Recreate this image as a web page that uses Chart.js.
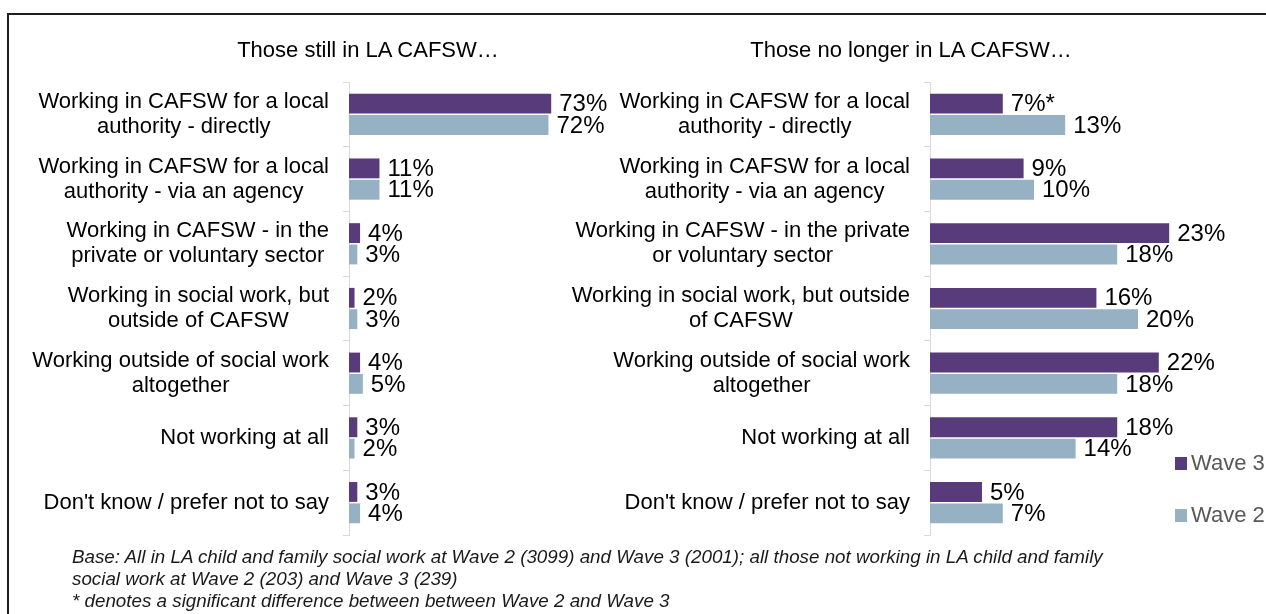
<!DOCTYPE html>
<html>
<head>
<meta charset="utf-8">
<script src="https://cdn.jsdelivr.net/npm/chart.js@4/dist/chart.umd.min.js"></script>
<style>
  body { margin: 0; background: #fff; width: 1266px; height: 614px; overflow: hidden; position: relative;
         font-family: "Liberation Sans", Arial, sans-serif; }
  .frame { position: absolute; left: 7px; top: 13px; width: 1300px; height: 700px;
           border-left: 2px solid #1e1e1e; border-top: 2px solid #1e1e1e; }
  canvas { position: absolute; top: 0; }
  #still { left: 0; }
  #left { left: 560px; }
  .title { position: absolute; top: 37px; font-size: 22px; color: #000; white-space: nowrap; transform: translateX(-50%); }
  .note { position: absolute; left: 72px; top: 546px; font-size: 18.8px; font-style: italic; line-height: 22px; color: #1a1a1a; white-space: nowrap; }
</style>
</head>
<body>
<div class="frame"></div>
<canvas id="still" width="640" height="614"></canvas>
<canvas id="left" width="706" height="614"></canvas>
<div class="title" style="left:368px">Those still in LA CAFSW…</div>
<div class="title" style="left:911px">Those no longer in LA CAFSW…</div>
<div class="note">Base: All in LA child and family social work at Wave 2 (3099) and Wave 3 (2001); all those not working in LA child and family<br>social work at Wave 2 (203) and Wave 3 (239)<br>* denotes a significant difference between between Wave 2 and Wave 3</div>
<script>
// categories, split into lines the way each panel wraps them
const stillLabels = [
  ['Working in CAFSW for a local', 'authority - directly'],
  ['Working in CAFSW for a local', 'authority - via an agency'],
  ['Working in CAFSW - in the', 'private or voluntary sector'],
  ['Working in social work, but', 'outside of CAFSW'],
  ['Working outside of social work', 'altogether'],
  'Not working at all',
  "Don't know / prefer not to say"
];
const leftLabels = [
  ['Working in CAFSW for a local', 'authority - directly'],
  ['Working in CAFSW for a local', 'authority - via an agency'],
  ['Working in CAFSW - in the private', 'or voluntary sector'],
  ['Working in social work, but outside', 'of CAFSW'],
  ['Working outside of social work', 'altogether'],
  'Not working at all',
  "Don't know / prefer not to say"
];

// % values
const stillWave3 = [73, 11, 4, 2, 4, 3, 3];
const stillWave2 = [72, 11, 3, 3, 5, 2, 4];
const leftWave3 = [7, 9, 23, 16, 22, 18, 5];
const leftWave2 = [13, 10, 18, 20, 18, 14, 7];
// significance markers (wave 3 vs wave 2)
const leftWave3Marks = ['*', '', '', '', '', '', ''];

const FONT = '"Liberation Sans", Arial, sans-serif';
const purple = '#583b7b';
const blue = '#97b1c4';

const catLabels = {
  id: 'catLabels',
  afterDraw(chart) {
    const ctx = chart.ctx;
    const y = chart.scales.y;
    const right = chart.chartArea.left - 20;
    ctx.save();
    ctx.font = '22px ' + FONT;
    ctx.fillStyle = '#000';
    ctx.textAlign = 'center';
    ctx.textBaseline = 'middle';
    chart.data.labels.forEach((lab, i) => {
      const lines = Array.isArray(lab) ? lab : [lab];
      const w = Math.max(...lines.map(l => ctx.measureText(l).width));
      const cy = y.getPixelForValue(i);
      lines.forEach((l, j) => {
        ctx.fillText(l, right - w / 2, cy + (j - (lines.length - 1) / 2) * 25);
      });
    });
    ctx.restore();
  }
};

const valueLabels = {
  id: 'valueLabels',
  afterDatasetsDraw(chart) {
    const ctx = chart.ctx;
    ctx.save();
    ctx.font = '24px ' + FONT;
    ctx.fillStyle = '#000';
    ctx.textAlign = 'left';
    ctx.textBaseline = 'middle';
    chart.data.datasets.forEach((ds, di) => {
      chart.getDatasetMeta(di).data.forEach((bar, i) => {
        const mark = ds.marks ? ds.marks[i] : '';
        ctx.fillText(ds.data[i] + '%' + mark, bar.x + 8, bar.y + 1);
      });
    });
    ctx.restore();
  }
};

// legend drawn next to the bottom of the right panel
const sideLegend = {
  id: 'sideLegend',
  afterDraw(chart) {
    const ctx = chart.ctx;
    const x = chart.chartArea.right - 15;
    const b = chart.chartArea.bottom;
    ctx.save();
    ctx.font = '22px ' + FONT;
    ctx.textBaseline = 'middle';
    chart.data.datasets.forEach((ds, i) => {
      const cy = b - 72 + i * 52;
      ctx.fillStyle = ds.backgroundColor;
      ctx.fillRect(x, cy - 6, 12, 13);
      ctx.fillStyle = '#595959';
      ctx.fillText(ds.label, x + 16, cy + 1);
    });
    ctx.restore();
  }
};

function makeChart(id, labels, w3, w2, marks, xMax, pad, extra) {
  return new Chart(document.getElementById(id), {
    type: 'bar',
    data: {
      labels: labels,
      datasets: [
        { label: 'Wave 3', data: w3, backgroundColor: purple, marks: marks },
        { label: 'Wave 2', data: w2, backgroundColor: blue }
      ]
    },
    options: {
      indexAxis: 'y',
      responsive: false,
      animation: false,
      layout: { padding: pad },
      datasets: { bar: { categoryPercentage: 0.66, barPercentage: 0.93 } },
      scales: {
        x: { display: false, min: 0, max: xMax },
        y: {
          ticks: { display: false },
          grid: { drawOnChartArea: false, tickLength: 6, color: '#d9d9d9' },
          border: { color: '#d9d9d9' }
        }
      },
      plugins: { legend: { display: false }, tooltip: { enabled: false } }
    },
    plugins: [catLabels, valueLabels].concat(extra || [])
  });
}

makeChart('still', stillLabels, stillWave3, stillWave2, null, 100,
  { left: 343, right: 14, top: 82, bottom: 79 });
makeChart('left', leftLabels, leftWave3, leftWave2, leftWave3Marks, 25,
  { left: 364, right: 76, top: 82, bottom: 79 }, [sideLegend]);
</script>
</body>
</html>
